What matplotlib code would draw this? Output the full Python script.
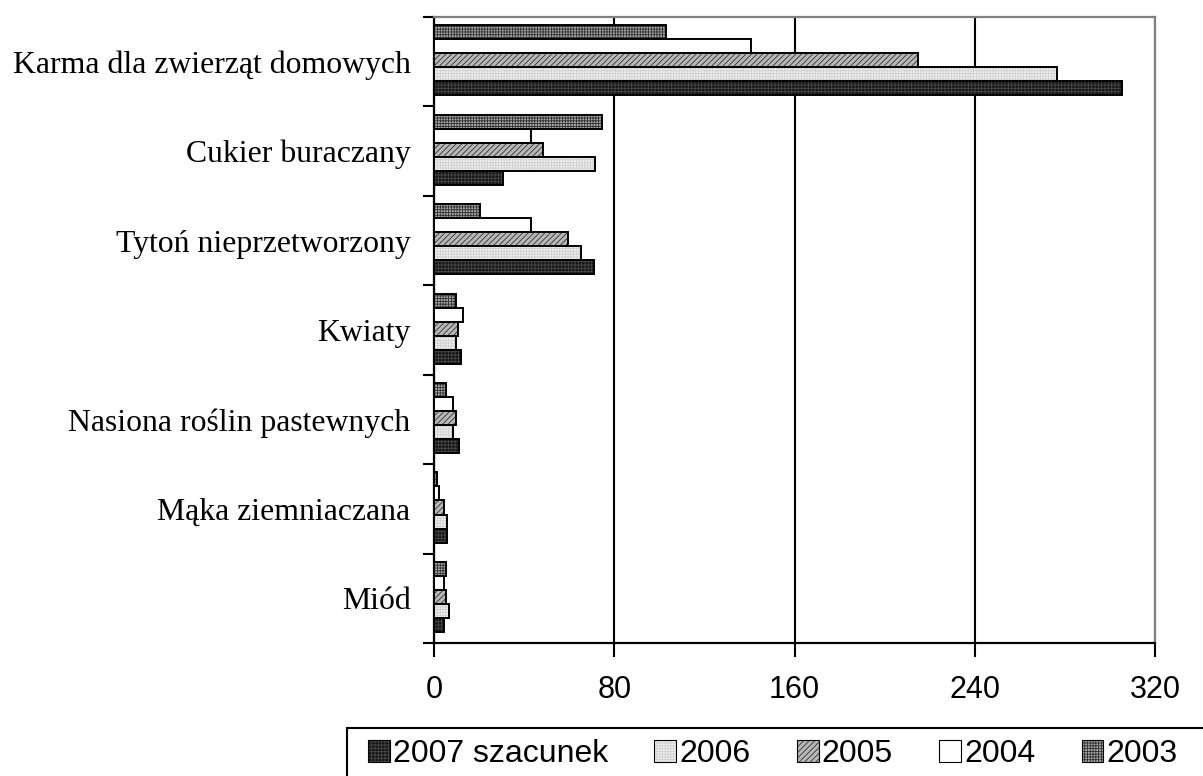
import numpy as np
import matplotlib
matplotlib.use("Agg")
import matplotlib.pyplot as plt
from matplotlib.patches import Patch, Rectangle

# categories, top to bottom
categories = ["Karma dla zwierząt domowych", "Cukier buraczany", "Tytoń nieprzetworzony",
              "Kwiaty", "Nasiona roślin pastewnych", "Mąka ziemniaczana", "Miód"]

# values per year (same order as categories)
v2003 = [103, 74.5, 20.5, 9.6, 5.5, 1.5, 5.5]
v2004 = [140.5, 43, 43, 12.7, 8.6, 2.4, 4.4]
v2005 = [215, 48.3, 59.4, 10.8, 9.7, 4.4, 5.5]
v2006 = [276.6, 71.4, 65.2, 9.6, 8.6, 5.6, 6.5]
v2007 = [305.4, 30.6, 70.8, 11.8, 10.9, 5.6, 4.5]

years = ["2003", "2004", "2005", "2006", "2007 szacunek"]
series = [v2003, v2004, v2005, v2006, v2007]

# fill, hatch, hatch colour for each year
styles = {
    "2003": ("#a8a8a8", "++++++", "#303030"),
    "2004": ("white", "", "white"),
    "2005": ("#b8b8b8", "//////", "#303030"),
    "2006": ("#f0f0f0", "++++++", "#d0d0d0"),
    "2007 szacunek": ("#151515", "+++++", "#484848"),
}

plt.rcParams['hatch.linewidth'] = 0.6

fig = plt.figure(figsize=(12.03, 7.76), dpi=100)
ax = fig.add_axes([434 / 1203, 1 - 643 / 776, 721 / 1203, 626 / 776])

n = len(categories)
ypos = np.arange(n)[::-1].astype(float)
bh = 0.157
offsets = [2 * bh, bh, 0, -bh, -2 * bh]

handles = {}
for yr, vals, off in zip(years, series, offsets):
    fc, hatch, hc = styles[yr]
    y = ypos + off + 0.015
    ax.barh(y, vals, height=bh, color=fc, hatch=hatch, edgecolor=hc,
            linewidth=0, zorder=3)
    ax.barh(y, vals, height=bh, fill=False, edgecolor="black",
            linewidth=1.4, zorder=4)
    handles[yr] = (Patch(facecolor=fc, hatch=hatch, edgecolor=hc, linewidth=0),
                   Patch(fill=False, edgecolor="black", linewidth=0.8))

ax.set_xlim(0, 320)
ax.set_ylim(-0.5, n - 0.5)
ax.set_xticks([0, 80, 160, 240, 320])
ax.xaxis.grid(True, color="black", linewidth=1.5, zorder=1)
ax.set_axisbelow(True)

# y ticks at category boundaries, labels at centres
ax.set_yticks(np.arange(-0.5, n, 1.0))
ax.set_yticklabels([])
ax.set_yticks(ypos, minor=True)
ax.set_yticklabels(categories, minor=True, fontfamily="Liberation Serif", fontsize=22.9)
ax.tick_params(axis="y", which="minor", length=0, pad=17)
ax.tick_params(axis="y", which="major", length=8, width=1.5, direction="out")
ax.tick_params(axis="x", length=10, width=1.5, direction="out", pad=13)
for lab in ax.get_xticklabels():
    lab.set_fontfamily("Liberation Sans")
    lab.set_fontsize(22)

for s in ["left", "bottom"]:
    ax.spines[s].set_color("black")
    ax.spines[s].set_linewidth(1.6)
for s in ["top", "right"]:
    ax.spines[s].set_color("#808080")
    ax.spines[s].set_linewidth(1.6)

# legend frame running off the figure edge
fig.patches.append(Rectangle((347 / 1203, -0.1), 1.0, (1 - 728 / 776) + 0.1,
                             transform=fig.transFigure, fill=False,
                             edgecolor="black", linewidth=1.5))

order = ["2007 szacunek", "2006", "2005", "2004", "2003"]
fig.legend([handles[k] for k in order], order, loc="upper left",
           bbox_to_anchor=(368 / 1203, 1 - 739 / 776), ncol=5, frameon=False,
           prop={"family": "Liberation Sans", "size": 23},
           handlelength=0.68, handleheight=0.66, handletextpad=0.1,
           columnspacing=1.45, borderpad=0, borderaxespad=0)

fig.savefig("out.png", dpi=100)
